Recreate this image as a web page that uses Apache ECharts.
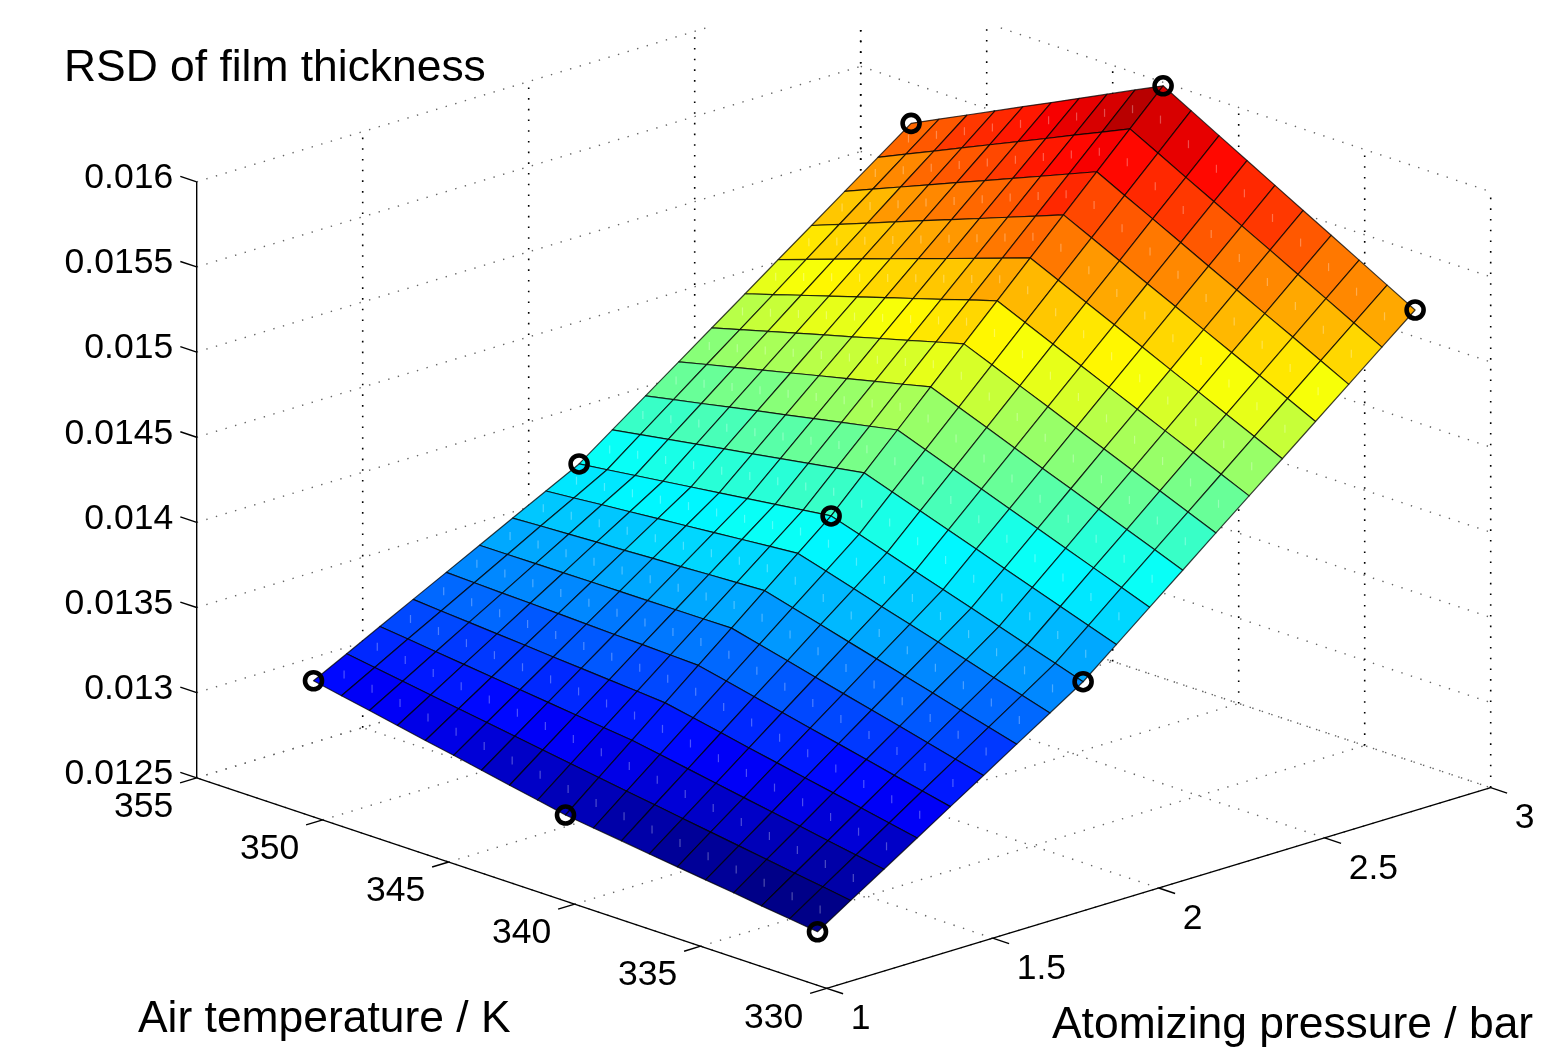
<!DOCTYPE html>
<html>
<head>
<meta charset="utf-8">
<style>html,body{margin:0;padding:0;background:#fff}#chart{width:1542px;height:1054px;filter:blur(0.45px)}</style>
<script src="https://cdn.jsdelivr.net/npm/echarts@6/dist/echarts.min.js"></script>
</head>
<body>
<div id="chart"></div>
<script>
// ---- data ----
const airTemperatureK = [333,334.11,335.22,336.33,337.44,338.56,339.67,340.78,341.89,343,344.11,345.22,346.33,347.44,348.56,349.67,350.78,351.89,353];
const atomizingPressureBar = [1.2,1.3,1.4,1.5,1.6,1.7,1.8,1.9,2,2.1,2.2,2.3,2.4,2.5,2.6,2.7,2.8,2.9,3];
// one row per pressure, one column per temperature
const rsdSurface = [
[0.012566,0.012587,0.012608,0.012630,0.012651,0.012672,0.012693,0.012715,0.012736,0.012757,0.012790,0.012822,0.012855,0.012888,0.012920,0.012953,0.012986,0.013018,0.013051],
[0.012691,0.012716,0.012741,0.012767,0.012792,0.012817,0.012842,0.012868,0.012893,0.012918,0.012944,0.012970,0.012996,0.013022,0.013047,0.013073,0.013099,0.013125,0.013151],
[0.012815,0.012844,0.012873,0.012903,0.012932,0.012961,0.012990,0.013020,0.013049,0.013078,0.013097,0.013117,0.013136,0.013155,0.013175,0.013194,0.013213,0.013233,0.013252],
[0.012940,0.012973,0.013006,0.013040,0.013073,0.013106,0.013139,0.013173,0.013206,0.013239,0.013252,0.013264,0.013277,0.013289,0.013302,0.013314,0.013327,0.013339,0.013352],
[0.013065,0.013102,0.013139,0.013177,0.013214,0.013251,0.013288,0.013326,0.013363,0.013400,0.013406,0.013412,0.013417,0.013423,0.013429,0.013435,0.013440,0.013446,0.013452],
[0.013189,0.013230,0.013271,0.013313,0.013354,0.013395,0.013436,0.013478,0.013519,0.013560,0.013559,0.013558,0.013557,0.013556,0.013556,0.013555,0.013554,0.013553,0.013552],
[0.013314,0.013359,0.013404,0.013450,0.013495,0.013540,0.013585,0.013631,0.013676,0.013721,0.013713,0.013706,0.013698,0.013691,0.013683,0.013676,0.013668,0.013661,0.013653],
[0.013438,0.013487,0.013536,0.013586,0.013635,0.013684,0.013733,0.013783,0.013832,0.013881,0.013867,0.013853,0.013838,0.013824,0.013810,0.013796,0.013782,0.013767,0.013753],
[0.013563,0.013616,0.013669,0.013723,0.013776,0.013829,0.013882,0.013936,0.013989,0.014042,0.014021,0.014000,0.013979,0.013958,0.013937,0.013916,0.013895,0.013874,0.013853],
[0.013722,0.013779,0.013836,0.013893,0.013950,0.014008,0.014065,0.014122,0.014179,0.014236,0.014209,0.014182,0.014155,0.014128,0.014102,0.014075,0.014048,0.014021,0.013994],
[0.013882,0.013943,0.014004,0.014064,0.014125,0.014186,0.014247,0.014307,0.014368,0.014429,0.014396,0.014364,0.014331,0.014298,0.014266,0.014233,0.014200,0.014168,0.014135],
[0.014041,0.014106,0.014170,0.014235,0.014300,0.014364,0.014429,0.014494,0.014558,0.014623,0.014584,0.014546,0.014507,0.014469,0.014430,0.014392,0.014353,0.014315,0.014276],
[0.014201,0.014269,0.014338,0.014406,0.014475,0.014543,0.014612,0.014680,0.014749,0.014817,0.014773,0.014728,0.014684,0.014639,0.014595,0.014550,0.014506,0.014461,0.014417],
[0.014360,0.014432,0.014505,0.014577,0.014649,0.014722,0.014794,0.014866,0.014939,0.015011,0.014961,0.014910,0.014860,0.014810,0.014759,0.014709,0.014659,0.014608,0.014558],
[0.014519,0.014595,0.014671,0.014747,0.014823,0.014900,0.014976,0.015052,0.015128,0.015204,0.015148,0.015092,0.015036,0.014980,0.014924,0.014868,0.014812,0.014756,0.014700],
[0.014679,0.014759,0.014839,0.014919,0.014999,0.015079,0.015158,0.015238,0.015318,0.015398,0.015336,0.015274,0.015212,0.015150,0.015089,0.015027,0.014965,0.014903,0.014841],
[0.014838,0.014922,0.015006,0.015089,0.015173,0.015257,0.015341,0.015425,0.015508,0.015592,0.015524,0.015456,0.015389,0.015321,0.015253,0.015185,0.015118,0.015050,0.014982],
[0.014998,0.015085,0.015173,0.015260,0.015348,0.015435,0.015523,0.015610,0.015698,0.015785,0.015711,0.015638,0.015564,0.015491,0.015417,0.015344,0.015270,0.015197,0.015123],
[0.015157,0.015248,0.015340,0.015431,0.015522,0.015614,0.015705,0.015796,0.015888,0.015979,0.015900,0.015820,0.015741,0.015661,0.015582,0.015502,0.015423,0.015344,0.015264]
];
// measured points: [pressure, temperature, RSD]
const measuredPoints = [
[1.2,333,0.012566],[1.2,343,0.012757],[1.2,353,0.013051],
[2,333,0.013563],[2,343,0.014042],[2,353,0.013853],
[3,333,0.015157],[3,343,0.015979],[3,353,0.015264]
];
const temperatureTicks = [330,335,340,345,350,355];
const pressureTicks = [1,1.5,2,2.5,3];
const rsdTicks = ['0.0125','0.013','0.0135','0.014','0.0145','0.015','0.0155','0.016'];
const titleRsd = 'RSD of film thickness';
const titleTemperature = 'Air temperature / K';
const titlePressure = 'Atomizing pressure / bar';

// ---- orthographic view of the 3-D box, in the units of the hidden 2-D axes ----
const view = {x0:826.7, y0:988.3, dxT:-25.2, dyT:-8.42, dxP:332, dyP:-100.3, dyZ:-170286, tMin:330, pMin:1, zMin:0.0125};
function project(T,p,z){
  const t=T-view.tMin, q=p-view.pMin, h=z-view.zMin;
  return [view.x0+view.dxT*t+view.dxP*q, view.y0+view.dyT*t+view.dyP*q+view.dyZ*h];
}
const T0=temperatureTicks[0], T1=temperatureTicks[temperatureTicks.length-1];
const P0=pressureTicks[0], P1=pressureTicks[pressureTicks.length-1];
const Z0=+rsdTicks[0], Z1=+rsdTicks[rsdTicks.length-1];
const cropTop=28;
function clipTop(a,b){
  if(a[1]>=cropTop&&b[1]>=cropTop) return [a,b];
  if(a[1]<cropTop&&b[1]<cropTop) return null;
  const s=(cropTop-a[1])/(b[1]-a[1]);
  const m=[a[0]+(b[0]-a[0])*s,cropTop];
  return a[1]<cropTop?[m,b]:[a,m];
}

// dotted grid on the back walls and floor
const gridSegs=[];
function dotted(a,b,kind){const c=clipTop(a,b); if(c) gridSegs.push([c[0][0],c[0][1],c[1][0],c[1][1],kind]);}
rsdTicks.forEach(s=>{const z=+s;
  dotted(project(T1,P0,z),project(T1,P1,z),0);
  dotted(project(T1,P1,z),project(T0,P1,z),0);
});
pressureTicks.forEach(p=>{
  if(p!==P0) dotted(project(T1,p,Z0),project(T1,p,Z1),1);
  dotted(project(T0,p,Z0),project(T1,p,Z0),0);
});
temperatureTicks.forEach(T=>{
  dotted(project(T,P1,Z0),project(T,P1,Z1),1);
  dotted(project(T,P0,Z0),project(T,P1,Z0),0);
});

// solid axes and ticks
const axisSegs=[];
function solid(a,b){axisSegs.push([a[0],a[1],b[0],b[1]]);}
solid(project(T1,P0,Z0),project(T1,P0,Z1));
solid(project(T1,P0,Z0),project(T0,P0,Z0));
solid(project(T0,P0,Z0),project(T0,P1,Z0));
const labels=[];
rsdTicks.forEach(s=>{const z=+s;const a=project(T1,P0,z);
  solid(a,project(T1+0.65,P0,z));
  labels.push([a[0]-23.5,a[1]-3.5,s,'right']);
});
temperatureTicks.forEach(T=>{const a=project(T,P0,Z0);
  solid(a,project(T,P0-0.05,Z0));
  labels.push([a[0]-23.5,a[1]+29.5,String(T),'right']);
});
pressureTicks.forEach(p=>{const a=project(T0,p,Z0);
  solid(a,project(T0-0.65,p,Z0));
  labels.push([a[0]+24,a[1]+31,String(p),'left']);
});

// surface cells, far to near
const cells=[];
for(let i=airTemperatureK.length-2;i>=0;i--){
  for(let j=atomizingPressureBar.length-2;j>=0;j--) cells.push([i,j]);
}
const allZ=rsdSurface.flat();
const zLo=Math.min.apply(null,allZ), zHi=Math.max.apply(null,allZ);
const jet=['#000080','#0000ff','#0080ff','#00ffff','#80ff80','#ffff00','#ff8000','#ff0000','#800000'];
function jetColor(z){
  const level=Math.min(63,Math.floor((z-zLo)/(zHi-zLo)*64));
  return echarts.color.lerp((level+0.5)/64,jet);
}
function corner(i,j){return project(airTemperatureK[i],atomizingPressureBar[j],rsdSurface[j][i]);}

const chart=echarts.init(document.getElementById('chart'),null,{renderer:'canvas'});
const font='"Liberation Sans", Arial, sans-serif';
const titleStyle={fontFamily:font,fontSize:44.4,fontWeight:'normal',color:'#000'};
chart.setOption({
  animation:false,
  backgroundColor:'#ffffff',
  grid:{left:0,right:0,top:0,bottom:0},
  xAxis:{type:'value',min:0,max:1542,show:false},
  yAxis:{type:'value',min:0,max:1054,inverse:true,show:false},
  title:[
    {text:titleRsd,left:64,top:47,textStyle:titleStyle,padding:0},
    {text:titleTemperature,left:138,top:998,textStyle:titleStyle,padding:0},
    {text:titlePressure,left:1052,top:1004,textStyle:titleStyle,padding:0}
  ],
  series:[
    {type:'custom',name:'grid',silent:true,clip:false,z:1,data:gridSegs,
     renderItem:function(p,api){
       const a=api.coord([api.value(0),api.value(1)]),b=api.coord([api.value(2),api.value(3)]);
       const v=api.value(4)===1;
       return {type:'line',shape:{x1:a[0],y1:a[1],x2:b[0],y2:b[1]},
         style:{stroke:v?'#000':'#666',lineWidth:v?1.6:1.4,lineDash:v?[1.6,9.1]:[1.4,8.6]}};
     }},
    {type:'custom',name:'axes',silent:true,clip:false,z:2,data:axisSegs,
     renderItem:function(p,api){
       const a=api.coord([api.value(0),api.value(1)]),b=api.coord([api.value(2),api.value(3)]);
       return {type:'line',shape:{x1:a[0],y1:a[1],x2:b[0],y2:b[1]},style:{stroke:'#000',lineWidth:1.4}};
     }},
    {type:'custom',name:'surface',silent:true,clip:false,z:3,data:cells,
     renderItem:function(p,api){
       const i=api.value(0),j=api.value(1);
       const pts=[corner(i,j),corner(i+1,j),corner(i+1,j+1),corner(i,j+1)].map(c=>api.coord(c));
       const cx=(pts[0][0]+pts[1][0]+pts[2][0]+pts[3][0])/4, cy=(pts[0][1]+pts[1][1]+pts[2][1]+pts[3][1])/4;
       return {type:'group',children:[
         {type:'polygon',shape:{points:pts},style:{fill:jetColor(rsdSurface[j][i]),stroke:'rgba(0,0,0,0.75)',lineWidth:1.2,lineJoin:'round'}},
         {type:'line',shape:{x1:cx,y1:cy-4,x2:cx,y2:cy+4},style:{stroke:'rgba(255,255,255,0.3)',lineWidth:1.2}}
       ]};
     }},
    {type:'scatter',name:'measured',silent:true,z:4,clip:false,symbol:'circle',symbolSize:17,
     itemStyle:{color:'rgba(0,0,0,0)',borderColor:'#000',borderWidth:4.6,opacity:1},
     data:measuredPoints.map(m=>project(m[1],m[0],m[2]))},
    {type:'custom',name:'labels',silent:true,clip:false,z:5,data:labels.map(l=>[l[0],l[1]]),
     renderItem:function(p,api){
       const a=api.coord([api.value(0),api.value(1)]);
       const l=labels[p.dataIndex];
       return {type:'text',style:{x:a[0],y:a[1],text:l[2],fill:'#000',font:'35.5px '+font,align:l[3],verticalAlign:'middle'}};
     }}
  ]
});
</script>
</body>
</html>
